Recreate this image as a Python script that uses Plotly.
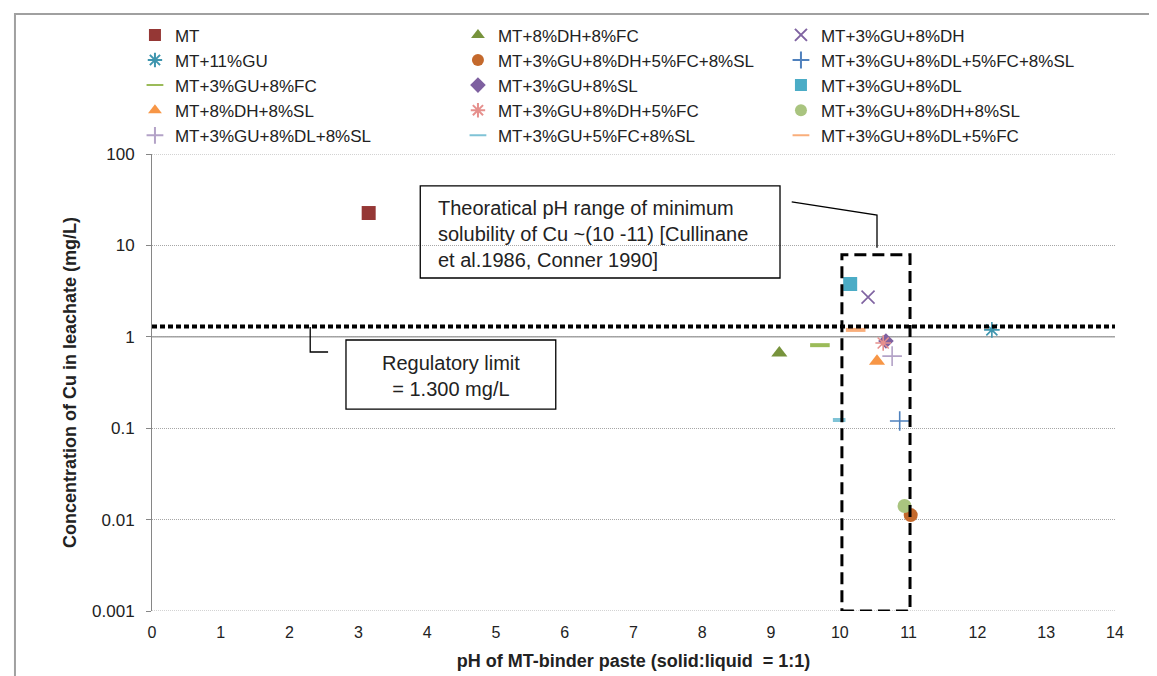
import plotly.graph_objects as go

# --- data ---
series = [
    "MT", "MT+8%DH+8%FC", "MT+3%GU+8%DH",
    "MT+11%GU", "MT+3%GU+8%DH+5%FC+8%SL", "MT+3%GU+8%DL+5%FC+8%SL",
    "MT+3%GU+8%FC", "MT+3%GU+8%SL", "MT+3%GU+8%DL",
    "MT+8%DH+8%SL", "MT+3%GU+8%DH+5%FC", "MT+3%GU+8%DH+8%SL",
    "MT+3%GU+8%DL+8%SL", "MT+3%GU+5%FC+8%SL", "MT+3%GU+8%DL+5%FC",
]
ph = [3.15, 9.12, 10.41, 12.21, 11.03, 10.87, 9.71, 10.67, 10.15,
      10.54, 10.63, 10.94, 10.76, 9.99, 10.23]
cu = [22.6, 0.665, 2.72, 1.19, 0.0112, 0.12, 0.81, 0.90, 3.78,
      0.54, 0.855, 0.0141, 0.615, 0.123, 1.19]

y_ticks = [0.001, 0.01, 0.1, 1, 10, 100]
y_ticktext = ["0.001", "0.01", "0.1", "1", "10", "100"]
x_ticks = list(range(0, 15))

LIMITE = 1.3          # regulatory limit mg/L
RANGO_PH = (10.03, 11.02)
RANGO_TOP = 7.9

# marker styles (symbol, size, color, filled)
estilos = [
    ("square", 14, "#953735", True),
    ("triangle-up", 14, "#77933C", True),
    ("x-thin-open", 13, "#8064A2", False),
    ("asterisk-open", 13, "#3E95AE", False),
    ("circle", 14, "#C4692C", True),
    ("cross-thin-open", 14, "#4F81BD", False),
    ("line-ew-open", 14, "#9BBB59", False),
    ("diamond", 12, "#7E60A0", True),
    ("square", 14, "#4BACC6", True),
    ("triangle-up", 14, "#F79646", True),
    ("asterisk-open", 13, "#E6908D", False),
    ("circle", 14, "#A9C47F", True),
    ("cross-thin-open", 14, "#B3A2C7", False),
    ("line-ew-open", 9, "#7FC3D6", False),
    ("line-ew-open", 14, "#F9AE7B", False),
]

FONT = "Liberation Sans, Arial, sans-serif"
TXT = "#222222"

fig = go.Figure()

for i, nombre in enumerate(series):
    sym, size, color, filled = estilos[i]
    lw = 4 if sym.startswith("line") else 1.6
    fig.add_trace(go.Scatter(
        x=[ph[i]], y=[cu[i]], mode="markers", name=nombre,
        marker=dict(symbol=sym, size=size, color=color,
                    line=dict(color=color, width=0 if filled else lw)),
    ))

# dotted grid lines at the plot edges (100 and 0.001)
for v in (y_ticks[0], y_ticks[-1]):
    fig.add_shape(type="line", xref="paper", x0=0, x1=1, yref="y", y0=v, y1=v,
                  line=dict(color="#A6A6A6", width=1, dash="1px,1px"), layer="below")
# solid grey line at 1
fig.add_shape(type="line", xref="paper", x0=0, x1=1, yref="y", y0=1, y1=1,
              line=dict(color="#A0A0A0", width=1.5), layer="below")

# regulatory limit (dotted)
fig.add_shape(type="line", xref="paper", x0=0, x1=1, yref="y", y0=LIMITE, y1=LIMITE,
              line=dict(color="black", width=4, dash="5px,3px"))

# dashed pH range box
fig.add_shape(type="rect", x0=RANGO_PH[0], x1=RANGO_PH[1], y0=y_ticks[0], y1=RANGO_TOP,
              line=dict(color="black", width=3, dash="12px,6px"))

# annotation box 1 + leader
fig.add_shape(type="rect", x0=3.90, x1=9.13, y0=4.4, y1=44.7,
              line=dict(color="black", width=1.3))
fig.add_annotation(x=4.13, y=1.125, xanchor="left", yanchor="middle", showarrow=False, align="left",
                   text="Theoratical pH range of minimum<br>solubility of Cu ~(10 -11) [Cullinane<br>et al.1986, Conner 1990]",
                   font=dict(family=FONT, size=20, color=TXT))
fig.add_shape(type="path", path="M 9.30,29.9 L 10.54,21.5 L 10.54,9.4",
              line=dict(color="black", width=1.3))

# annotation box 2 + leader
fig.add_shape(type="rect", x0=2.82, x1=5.87, y0=0.162, y1=0.923,
              line=dict(color="black", width=1.3))
fig.add_annotation(x=4.35, y=-0.429, xanchor="center", yanchor="middle", showarrow=False, align="center",
                   text="Regulatory limit<br>= 1.300 mg/L",
                   font=dict(family=FONT, size=20, color=TXT))
fig.add_shape(type="path", path="M 2.30,1.28 L 2.30,0.682 L 2.56,0.682",
              line=dict(color="black", width=1.3))

# chart border
fig.add_shape(type="rect", xref="paper", yref="paper", x0=-0.1423, x1=1.0509, y0=-0.3, y1=1.3063,
              line=dict(color="#A0A0A0", width=2))

fig.update_layout(
    width=1157, height=676,
    paper_bgcolor="white", plot_bgcolor="white",
    margin=dict(l=144, r=50, t=146, b=73, autoexpand=False),
    font=dict(family=FONT, color=TXT),
    showlegend=True,
    legend=dict(
        orientation="h", x=-0.0177, xanchor="left", y=1.299, yanchor="top",
        entrywidth=278, itemsizing="constant", tracegroupgap=0,
        font=dict(family=FONT, size=17, color=TXT), bgcolor="rgba(0,0,0,0)",
    ),
)

fig.update_xaxes(range=[0, 14], tickvals=x_ticks, showgrid=False, zeroline=False,
                 showline=False, ticks="", ticklabelstandoff=10,
                 tickfont=dict(size=16, color=TXT),
                 title=dict(text="<b>pH of MT-binder paste (solid:liquid  = 1:1)</b>",
                            font=dict(size=18, color=TXT), standoff=14))
fig.update_yaxes(type="log", range=[-3, 2], tickvals=y_ticks, ticktext=y_ticktext,
                 showgrid=True, gridcolor="#A6A6A6", griddash="1px,1px", gridwidth=1,
                 zeroline=False, showline=True, linecolor="#868686", linewidth=1,
                 ticks="outside", ticklen=5, tickcolor="#868686", ticklabelstandoff=8,
                 tickfont=dict(size=17, color=TXT),
                 title=dict(text="<b>Concentration of Cu in leachate (mg/L)</b>",
                            font=dict(size=18, color=TXT), standoff=10))

fig.write_html("out.html")
